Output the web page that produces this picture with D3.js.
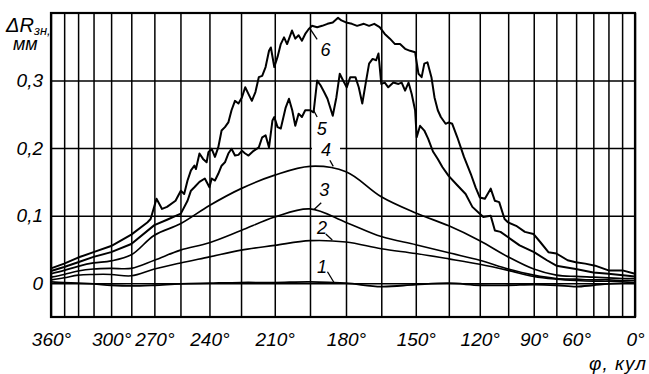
<!DOCTYPE html>
<html>
<head>
<meta charset="utf-8">
<script src="https://cdn.jsdelivr.net/npm/d3@7"></script>
<style>
  body { margin: 0; background: #fff; }
  svg text { font-family: "Liberation Sans", Arial, sans-serif; font-style: italic; fill: #000; }
</style>
</head>
<body>
<svg id="chart" width="649" height="374"></svg>
<script>
// grid every 15 deg, labelled angles, y ticks
const phiGrid = [360, 345, 330, 315, 300, 285, 270, 255, 240, 225, 210, 195, 180,
                 165, 150, 135, 120, 105, 90, 75, 60, 45, 30, 15, 0];
const phiLabels = [360, 300, 270, 240, 210, 180, 150, 120, 90, 60, 0];
const yTicks = [0, 0.1, 0.2, 0.3];

// smooth curves 1..4, read at the grid angles
const dR1 = [0.002, 0.001, 0.000, -0.001, -0.003, -0.004, -0.003, -0.001, 0.000, 0.001, 0.001, 0.002, 0.000,
             -0.005, -0.002, 0.000, -0.003, -0.003, -0.002, -0.003, -0.005, -0.003, -0.001, 0.000, 0.001];
const dR2 = [0.005, 0.008, 0.012, 0.013, 0.013, 0.011, 0.021, 0.030, 0.039, 0.049, 0.056, 0.063, 0.061,
             0.051, 0.044, 0.036, 0.028, 0.019, 0.010, 0.006, 0.004, 0.003, 0.003, 0.003, 0.004];
const dR3 = [0.009, 0.013, 0.018, 0.021, 0.022, 0.022, 0.034, 0.049, 0.060, 0.078, 0.098, 0.110, 0.090,
             0.069, 0.057, 0.045, 0.034, 0.021, 0.012, 0.007, 0.006, 0.005, 0.005, 0.004, 0.004];
const dR4 = [0.014, 0.019, 0.025, 0.030, 0.033, 0.042, 0.071, 0.088, 0.115, 0.140, 0.160, 0.173, 0.165,
             0.128, 0.104, 0.085, 0.063, 0.039, 0.021, 0.012, 0.010, 0.009, 0.008, 0.007, 0.007];

// noisy curve 5
const phi5 = [360, 345, 330, 315, 300, 285, 270, 262.5, 254.8, 251.2,
              249.4, 247.6, 245.0, 242.3, 240, 238.9, 237.3, 235.7, 234.1, 232.5,
              230.9, 229.4, 227.8, 226.2, 224.6, 223.1, 221.6, 219.3, 217.0, 215.5,
              214.0, 212.5, 211.0, 210.2, 208.8, 207.4, 205.3, 203.9, 202.5, 201.2,
              199.8, 198.4, 197.0, 194.9, 193.5, 192.0, 190.6, 189.1, 187.7, 185.5,
              184.0, 182.6, 181.2, 179.7, 178.2, 176.0, 174.6, 173.1, 171.6, 170.2,
              168.7, 167.2, 166.2, 165, 163.5, 162.0, 159.8, 157.6, 156.2, 154.7,
              153.2, 151.8, 150.3, 149.6, 148.1, 146.2, 144.5, 142.3, 140.1, 138.0,
              135.1, 131.0, 127.0, 123.7, 120, 118.2, 114.4, 112.2, 109.2, 105,
              98.5, 89.8, 81.5, 75, 60.3, 45, 30, 0];
const dR5 = [0.018, 0.024, 0.031, 0.039, 0.046, 0.058, 0.086, 0.094, 0.103, 0.122,
             0.137, 0.142, 0.150, 0.155, 0.142, 0.155, 0.152, 0.162, 0.174, 0.179,
             0.192, 0.199, 0.189, 0.190, 0.196, 0.192, 0.189, 0.196, 0.201, 0.216,
             0.219, 0.201, 0.241, 0.246, 0.231, 0.229, 0.260, 0.273, 0.256, 0.233,
             0.251, 0.246, 0.256, 0.256, 0.253, 0.300, 0.293, 0.283, 0.273, 0.248,
             0.275, 0.310, 0.300, 0.290, 0.305, 0.305, 0.290, 0.266, 0.297, 0.325,
             0.332, 0.330, 0.340, 0.295, 0.297, 0.290, 0.297, 0.295, 0.297, 0.285,
             0.297, 0.280, 0.256, 0.216, 0.233, 0.226, 0.214, 0.195, 0.184, 0.172,
             0.159, 0.145, 0.132, 0.113, 0.103, 0.098, 0.100, 0.078, 0.076, 0.068,
             0.056, 0.046, 0.034, 0.026, 0.021, 0.016, 0.014, 0.010];

// noisy curve 6
const phi6 = [360, 345, 330, 315, 300, 285, 274.4, 272.3, 268.7, 265.4,
              262.5, 257.7, 254.8, 253.0, 251.2, 249.4, 247.6, 246.8, 245.0, 243.2,
              241.4, 240.5, 238.9, 237.3, 235.7, 234.1, 232.5, 230.9, 229.4, 227.8,
              226.2, 224.6, 223.1, 221.6, 220.1, 218.5, 217.0, 215.5, 214.0, 212.5,
              211.7, 210.2, 208.8, 207.4, 206.0, 204.7, 202.6, 201.2, 199.8, 198.4,
              197.0, 195.6, 194.2, 192.0, 189.9, 187.7, 185.5, 183.3, 181.9, 180,
              177.5, 175.3, 172.4, 170.2, 168.0, 165.7, 163.5, 161.3, 159.1, 156.9,
              154.7, 152.5, 150.3, 148.8, 147.4, 146.2, 144.8, 143.0, 141.6, 140.1,
              138.7, 136.5, 135.1, 133.4, 131.0, 127.8, 124.5, 122.1, 120, 117.4,
              114.4, 112.2, 109.9, 107.0, 105, 100.5, 95.4, 90.2, 85.9, 80.5,
              75, 66.7, 60.3, 52.3, 43.3, 30, 14.6, 0];
const dR6 = [0.022, 0.029, 0.038, 0.046, 0.055, 0.072, 0.090, 0.095, 0.125, 0.110,
             0.113, 0.122, 0.137, 0.132, 0.152, 0.167, 0.174, 0.169, 0.192, 0.184,
             0.179, 0.194, 0.199, 0.187, 0.201, 0.226, 0.231, 0.238, 0.256, 0.270,
             0.266, 0.275, 0.290, 0.280, 0.270, 0.283, 0.305, 0.307, 0.320, 0.344,
             0.349, 0.320, 0.335, 0.354, 0.364, 0.354, 0.374, 0.362, 0.367, 0.359,
             0.369, 0.376, 0.381, 0.379, 0.381, 0.384, 0.386, 0.393, 0.389, 0.386,
             0.384, 0.381, 0.384, 0.381, 0.384, 0.379, 0.369, 0.362, 0.354, 0.354,
             0.347, 0.344, 0.342, 0.310, 0.305, 0.325, 0.327, 0.305, 0.275, 0.256,
             0.246, 0.236, 0.238, 0.236, 0.216, 0.187, 0.162, 0.142, 0.127, 0.125,
             0.140, 0.122, 0.120, 0.095, 0.090, 0.085, 0.076, 0.073, 0.061, 0.046,
             0.044, 0.034, 0.031, 0.029, 0.026, 0.019, 0.019, 0.014];

// curve numbers and their leader lines, in (angle, value)
const curveNames = ['1', '2', '3', '4', '5', '6'];
const labelPhi = [190, 190, 189, 188.3, 190.1, 188.5];
const labelVal = [0.024, 0.082, 0.138, 0.197, 0.229, 0.345];
const leaderFrom = [[187.7, 0.017], [188.4, 0.073], [190.3, 0.119], [186.7, 0.182], [192.0, 0.246], [192.0, 0.361]];
const leaderTo = [[184.8, 0.000], [185.7, 0.064], [193.3, 0.109], [185.3, 0.173], [193.5, 0.256], [195.0, 0.377]];

const svg = d3.select('#chart');
const margin = {top: 13, right: 14, bottom: 57, left: 51};
const width = 649 - margin.left - margin.right;
const height = 374 - margin.top - margin.bottom;

// angle axis is not uniform: it is linear in phi - e*sin(phi)
const ecc = 0.47;
const toT = deg => { const r = deg * Math.PI / 180; return r - ecc * Math.sin(r); };
const xT = d3.scaleLinear().domain([2 * Math.PI, Math.PI, 0]).range([0, 295, width]);
const x = deg => xT(toT(deg));
const y = d3.scaleLinear().domain([-0.05, 0.4]).range([height, 0]);

const g = svg.append('g').attr('transform', `translate(${margin.left},${margin.top})`);

// grid
g.append('g')
  .attr('transform', `translate(0,${height})`)
  .call(d3.axisBottom(xT).tickValues(phiGrid.map(toT)).tickSize(-height).tickFormat(''))
  .call(a => a.select('.domain').remove());
g.append('g')
  .call(d3.axisLeft(y).tickValues(yTicks).tickSize(-width).tickFormat(''))
  .call(a => a.select('.domain').remove());
g.selectAll('.tick line').attr('stroke', '#000').attr('stroke-width', 1.5);

// tick labels
const xLab = g.append('g')
  .attr('transform', `translate(0,${height})`)
  .call(d3.axisBottom(xT).tickValues(phiLabels.map(toT)).tickSize(0).tickPadding(16)
    .tickFormat((d, i) => phiLabels[i] + '°'));
xLab.select('.domain').remove();
const yLab = g.append('g')
  .call(d3.axisLeft(y).tickValues(yTicks).tickSize(0).tickPadding(8)
    .tickFormat(d => d === 0 ? '0' : d3.format('.1f')(d).replace('.', ',')));
yLab.select('.domain').remove();
g.selectAll('text').style('font-size', '19px');

// frame
g.append('rect')
  .attr('width', width).attr('height', height)
  .attr('fill', 'none').attr('stroke', '#000').attr('stroke-width', 2.2);

// gap in the grid under label 4
g.append('rect')
  .attr('x', x(labelPhi[3]) - 14).attr('y', y(labelVal[3]) - 7)
  .attr('width', 28).attr('height', 14).attr('fill', '#fff');

const series = [
  {phi: phiGrid, v: dR1, smooth: true, w: 1.8},
  {phi: phiGrid, v: dR2, smooth: true, w: 1.6},
  {phi: phiGrid, v: dR3, smooth: true, w: 1.6},
  {phi: phiGrid, v: dR4, smooth: true, w: 1.7},
  {phi: phi5, v: dR5, smooth: false, w: 2},
  {phi: phi6, v: dR6, smooth: false, w: 2}
];

series.forEach(s => {
  const line = d3.line()
    .x(d => x(d[0]))
    .y(d => y(d[1]))
    .curve(s.smooth ? d3.curveCatmullRom.alpha(0.5) : d3.curveLinear);
  g.append('path')
    .datum(d3.zip(s.phi, s.v))
    .attr('d', line)
    .attr('fill', 'none')
    .attr('stroke', '#000')
    .attr('stroke-width', s.w)
    .attr('stroke-linejoin', 'round');
});

// curve numbers
g.selectAll('.leader')
  .data(d3.range(curveNames.length))
  .enter().append('line')
  .attr('class', 'leader')
  .attr('x1', i => x(leaderFrom[i][0])).attr('y1', i => y(leaderFrom[i][1]))
  .attr('x2', i => x(leaderTo[i][0])).attr('y2', i => y(leaderTo[i][1]))
  .attr('stroke', '#000').attr('stroke-width', 1.3);

g.selectAll('.cname')
  .data(curveNames)
  .enter().append('text')
  .attr('class', 'cname')
  .attr('x', (d, i) => x(labelPhi[i]))
  .attr('y', (d, i) => y(labelVal[i]))
  .attr('dy', '0.35em')
  .attr('text-anchor', 'middle')
  .style('font-size', '18px')
  .text(d => d);

// axis titles
const yt = svg.append('text').attr('x', 6).attr('y', 32).style('font-size', '20px');
yt.append('tspan').text('ΔR');
yt.append('tspan').attr('dy', 3).style('font-size', '13px').text('зн,');
svg.append('text').attr('x', 13).attr('y', 50).style('font-size', '18px').text('мм');

svg.append('text')
  .attr('x', 647).attr('y', 370)
  .attr('text-anchor', 'end')
  .style('font-size', '19px')
  .style('letter-spacing', '1px')
  .text('φ, кул');
</script>
</body>
</html>
